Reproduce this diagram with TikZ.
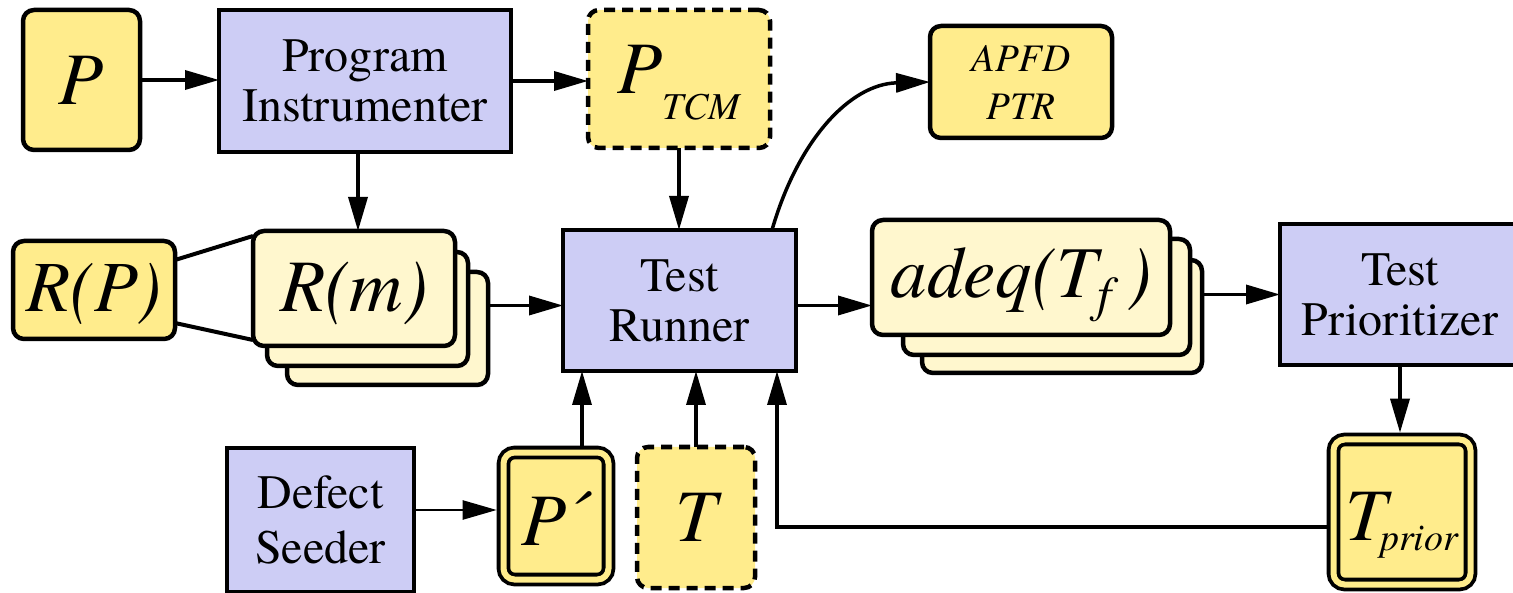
\documentclass[tikz,border=0pt]{standalone}
\usepackage{fontspec}
\IfFontExistsTF{TeX Gyre Termes}{\setmainfont{TeX Gyre Termes}}{}
\usetikzlibrary{arrows.meta}

\definecolor{procfill}{RGB}{205,205,245}
\definecolor{datafill}{RGB}{255,236,140}
\definecolor{pilefill}{RGB}{255,247,206}

\newcommand\bigit{\fontsize{74}{74}\selectfont\itshape}
\newcommand\subit{\fontsize{38}{38}\selectfont\itshape}

\tikzset{
  box/.style={draw=black, line width=4.5pt, inner sep=0pt, outer sep=0pt, align=center},
  proc/.style={box, fill=procfill, font=\fontsize{48}{50}\selectfont},
  datum/.style={box, fill=datafill, rounded corners=11pt, font=\bigit},
  pile/.style={box, fill=pilefill, rounded corners=11pt, font=\bigit},
  dashbox/.style={datum, dash pattern=on 11pt off 7pt},
  dblbox/.style={datum, line width=3.8pt, double=datafill, double distance=6pt, outer sep=6.8pt},
  flow/.style={line width=3.5pt, -{Triangle[length=34pt,width=19pt]}},
  thinflow/.style={line width=2.4pt, -{Triangle[length=34pt,width=19pt]}},
  link/.style={line width=4pt}
}

\begin{document}
\begin{tikzpicture}[x=1pt,y=-1pt]
\useasboundingbox (0,0) rectangle (1513,593);

% top row
\node[datum, minimum width=117pt, minimum height=140pt] (P) at (81.5,80) {P};
\node[proc, minimum width=292pt, minimum height=142pt] (PI) at (365,81) {Program\\Instrumenter};
\node[dashbox, minimum width=182pt, minimum height=138pt, text height=50pt, text depth=20pt] (PT) at (679,79)
  {P\raisebox{-26pt}{\subit TCM}};
\node[datum, minimum width=182pt, minimum height=112pt, font=\fontsize{39}{48}\selectfont\itshape] (AP) at (1021,82) {APFD\\PTR};

% middle row
\node[datum, minimum width=162pt, minimum height=98pt, font=\fontsize{72}{72}\selectfont\itshape, text height=56pt, text depth=12pt] (RP) at (94,290) {R(P)};
\node[pile, minimum width=201pt, minimum height=113pt] (Rm3) at (387.5,328.5) {};
\node[pile, minimum width=201pt, minimum height=114pt] (Rm2) at (367.5,309) {};
\node[pile, minimum width=202pt, minimum height=115pt, text height=57pt, text depth=10pt] (Rm) at (354,288.5) {R(m)};
\node[proc, minimum width=233pt, minimum height=141pt] (TR) at (679.5,300.5) {Test\\Runner};
\node[pile, minimum width=280pt, minimum height=113pt] (AQ3) at (1062,316.5) {};
\node[pile, minimum width=287pt, minimum height=116pt] (AQ2) at (1046.5,297) {};
\node[pile, minimum width=298pt, minimum height=115pt, font=\fontsize{73}{73}\selectfont\itshape, text height=52pt, text depth=12pt] (AQ) at (1021,277.5)
  {adeq(T\raisebox{-14pt}{\fontsize{50}{50}\selectfont f}\hspace{16pt})};
\node[proc, minimum width=240pt, minimum height=141pt] (TP) at (1400,294.5) {Test\\Prioritizer};

% bottom row
\node[proc, minimum width=187pt, minimum height=144pt, font=\fontsize{48}{55}\selectfont] (DS) at (320.5,520) {Defect\\Seeder};
\node[dblbox, minimum width=105pt, minimum height=127pt, text height=58pt, text depth=0pt] (Pp) at (556,516) {P\raisebox{4pt}{´}};
\node[dashbox, minimum width=118pt, minimum height=141pt] (T) at (696,517.5) {T};
\node[dblbox, minimum width=137pt, minimum height=145pt, text height=56pt, text depth=0pt] (TPr) at (1402,512)
  {T\kern-7pt\raisebox{-10pt}{\subit prior}};

% R(P) relates to the set of R(m)
\draw[link] ([yshift=30pt]RP.east) -- ([shift={(0pt,-5pt)}]Rm.north west);
\draw[link] ([yshift=-33pt]RP.east) -- ([shift={(0pt,6pt)}]Rm.south west);

% data flow
\draw[flow] (P.east) -- (P.east -| PI.west);
\draw[flow] (PI.east) -- (PI.east -| PT.west);
\draw[flow] ([xshift=-7pt]PI.south) -- ([xshift=-7pt]PI.south |- Rm.north);
\draw[flow] (PT.south) -- (PT.south |- TR.north);
\coordinate (trIn) at ([yshift=-5pt]TR.west);
\draw[flow] (Rm3.east |- trIn) -- (trIn);
\draw[flow] ([yshift=-5pt]TR.east) -- ([yshift=-5pt]TR.east -| AQ.west);
\draw[flow] (AQ3.east |- TP.west) -- (TP.west);
\draw[flow] (TP.south) -- (TP.south |- TPr.north);
\draw[flow] ([xshift=92.5pt]TR.north) .. controls (798,140) and (850,84) .. (AP.west);
\draw[thinflow] ([yshift=10pt]DS.east) -- ([yshift=10pt]DS.east -| Pp.west);
\draw[flow] ([xshift=26pt]Pp.north) -- ([xshift=26pt]Pp.north |- TR.south);
\draw[flow] (T.north) -- (T.north |- TR.south);
\draw[flow] ([yshift=-15pt]TPr.west) -| ([xshift=97.5pt]TR.south);
\end{tikzpicture}
\end{document}
